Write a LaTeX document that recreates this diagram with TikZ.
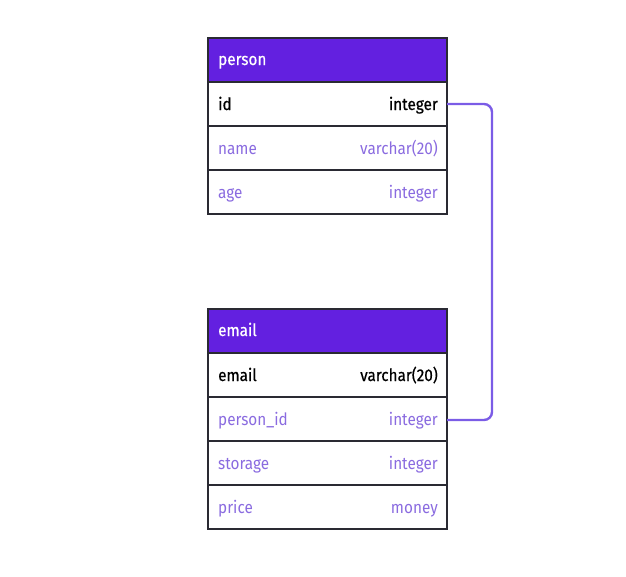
\documentclass[tikz,border=0pt]{standalone}
\usepackage{fontspec}
\setmainfont{Fira Sans}[FakeStretch=0.9]
\newfontfamily\keyfont{Fira Sans}[FakeStretch=0.9,FakeBold=0.6]
\begin{document}
\begin{tikzpicture}[x=1pt,y=-1pt,
  hdr/.style={fill=hdrcol,draw=tabline,line width=1.2pt},
  rowbox/.style={fill=white,draw=tabline,line width=1.2pt},
  hdrtext/.style={anchor=base west,text=white,font=\keyfont\fontsize{17}{20}\selectfont,inner sep=0pt},
  keyl/.style={anchor=base west,text=black,font=\keyfont\fontsize{17}{20}\selectfont,inner sep=0pt},
  keyr/.style={anchor=base east,text=black,font=\keyfont\fontsize{17}{20}\selectfont,inner sep=0pt},
  fl/.style={anchor=base west,text=fieldcol,font=\fontsize{17}{20}\selectfont,inner sep=0pt},
  fr/.style={anchor=base east,text=fieldcol,font=\fontsize{17}{20}\selectfont,inner sep=0pt},
  link/.style={draw=linkcol,line width=2.4pt,rounded corners=8pt}]
\definecolor{hdrcol}{HTML}{6320E0}
\definecolor{tabline}{HTML}{2A2A33}
\definecolor{fieldcol}{HTML}{8A6BE0}
\definecolor{linkcol}{HTML}{7B5CE6}
\useasboundingbox (0,0) rectangle (626,576);
% person table
\path[hdr] (208,38) rectangle (447,82);
\path[rowbox] (208,82) rectangle (447,126);
\path[rowbox] (208,126) rectangle (447,170);
\path[rowbox] (208,170) rectangle (447,214);
\node[hdrtext] (pt) at (218,65) {person};
\node[keyl] (pidl) at (218,110) {id};
\node[keyr] (pidr) at (438,110) {integer};
\node[fl] (pnl) at (218,154) {name};
\node[fr] (pnr) at (438,154) {varchar(20)};
\node[fl] (pal) at (218,198) {age};
\node[fr] (par) at (438,198) {integer};
\coordinate (pout) at (447,104);
% email table
\path[hdr] (208,309) rectangle (447,353);
\path[rowbox] (208,353) rectangle (447,397);
\path[rowbox] (208,397) rectangle (447,441);
\path[rowbox] (208,441) rectangle (447,485);
\path[rowbox] (208,485) rectangle (447,529);
\node[hdrtext] (et) at (218,336) {email};
\node[keyl] (eel) at (218,381) {email};
\node[keyr] (eer) at (438,381) {varchar(20)};
\node[fl] (epl) at (218,425) {person\_id};
\node[fr] (epr) at (438,425) {integer};
\node[fl] (esl) at (218,469) {storage};
\node[fr] (esr) at (438,469) {integer};
\node[fl] (eprl) at (218,513) {price};
\node[fr] (eprr) at (438,513) {money};
\coordinate (ein) at (447,420);
\draw[link] (pout) -- (492,104) -- (492,420) -- (ein);
\end{tikzpicture}
\end{document}
